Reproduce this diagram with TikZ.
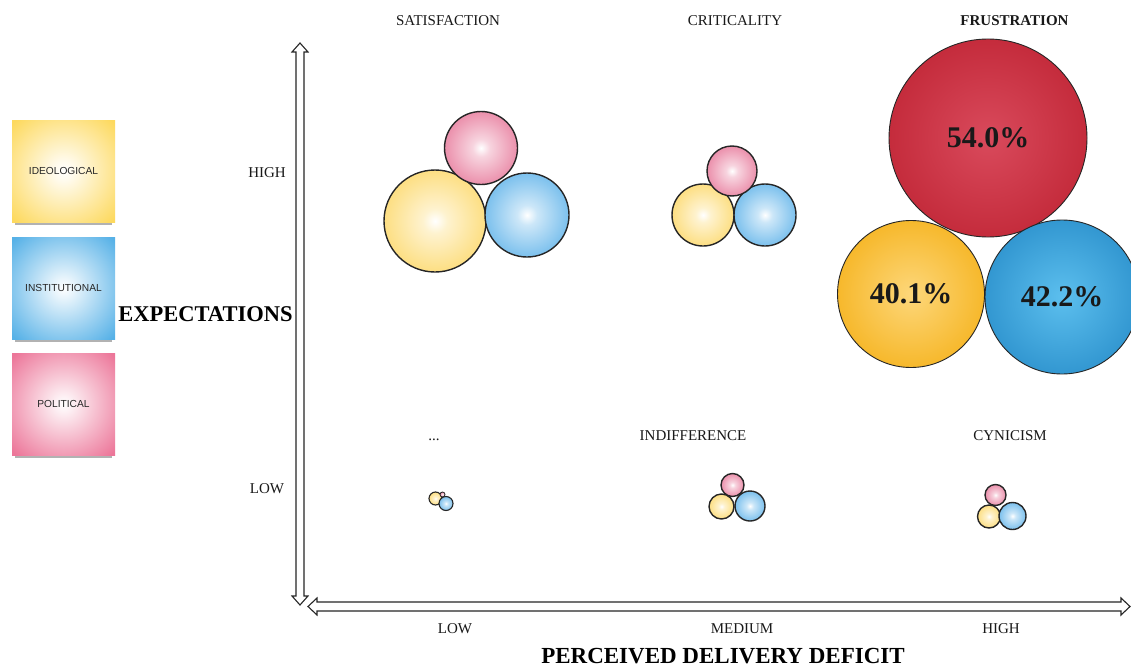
\documentclass[tikz,border=0pt]{standalone}
\usepackage{fontspec}
\setmainfont{Liberation Serif}
\newfontfamily\legendfont{Liberation Sans}
\usetikzlibrary{shadows}
% pastel bubbles
\definecolor{pyel}{HTML}{FCD55E}
\definecolor{pblu}{HTML}{55AEE8}
\definecolor{ppnk}{HTML}{E56F93}
% sticky notes
\definecolor{nyel}{HTML}{FDD95E}
\definecolor{nblu}{HTML}{56B1E7}
\definecolor{npnk}{HTML}{EC7699}
% big bubbles
\definecolor{bredc}{HTML}{D94A5C}
\definecolor{bred}{HTML}{C22838}
\definecolor{bredd}{HTML}{8E1B27}
\definecolor{borac}{HTML}{FDD77A}
\definecolor{bora}{HTML}{F5B21C}
\definecolor{borad}{HTML}{E39B08}
\definecolor{bbluc}{HTML}{5CBFEE}
\definecolor{bblu}{HTML}{2A8FCB}
\definecolor{bblud}{HTML}{1A70A6}
\pgfdeclareradialshading{shY}{\pgfpoint{0bp}{0bp}}{color(0bp)=(white); color(6bp)=(pyel!30!white); color(24bp)=(pyel!75!white); color(42bp)=(pyel); color(100bp)=(pyel)}
\pgfdeclareradialshading{shB}{\pgfpoint{0bp}{0bp}}{color(0bp)=(white); color(6bp)=(pblu!30!white); color(24bp)=(pblu!75!white); color(42bp)=(pblu); color(100bp)=(pblu)}
\pgfdeclareradialshading{shP}{\pgfpoint{0bp}{0bp}}{color(0bp)=(white); color(6bp)=(ppnk!30!white); color(24bp)=(ppnk!75!white); color(42bp)=(ppnk); color(100bp)=(ppnk)}
\pgfdeclareradialshading{noteY}{\pgfpoint{0bp}{0bp}}{color(0bp)=(white); color(5bp)=(white!88!nyel); color(34bp)=(nyel); color(100bp)=(nyel)}
\pgfdeclareradialshading{noteB}{\pgfpoint{0bp}{0bp}}{color(0bp)=(white); color(5bp)=(white!86!nblu); color(34bp)=(nblu); color(100bp)=(nblu)}
\pgfdeclareradialshading{noteP}{\pgfpoint{0bp}{0bp}}{color(0bp)=(white); color(5bp)=(white!86!npnk); color(34bp)=(npnk); color(100bp)=(npnk)}
\pgfdeclareradialshading{bigR}{\pgfpoint{0bp}{0bp}}{color(0bp)=(bredc); color(28bp)=(bred); color(50bp)=(bredd); color(100bp)=(bredd)}
\pgfdeclareradialshading{bigO}{\pgfpoint{0bp}{0bp}}{color(0bp)=(borac); color(30bp)=(bora); color(50bp)=(borad); color(100bp)=(borad)}
\pgfdeclareradialshading{bigB}{\pgfpoint{0bp}{0bp}}{color(0bp)=(bbluc); color(30bp)=(bblu); color(50bp)=(bblud); color(100bp)=(bblud)}
\begin{document}
\begin{tikzpicture}[x=1pt,y=-1pt,
  ball/.style={circle, draw=black!85, line width=1.4pt, inner sep=0pt, minimum size=#1},
  bigball/.style={circle, draw=black!85, line width=0.9pt, inner sep=0pt, minimum size=#1,
    font=\bfseries\fontsize{30}{32}\selectfont, text=black!90},
  note/.style={rectangle, minimum width=103pt, minimum height=102pt, inner sep=0pt,
    font=\legendfont\fontsize{10.2}{12}\selectfont, text=black!85,
    drop shadow={shadow xshift=0pt, shadow yshift=-6pt, opacity=0.4, shadow scale=0.94, fill=black!75}},
  lab/.style={anchor=base, font=\fontsize{15}{18}\selectfont, text=black!90},
  title/.style={anchor=base, font=\bfseries\fontsize{23}{26}\selectfont, text=black},
  axisarrow/.style={draw=black!85, fill=white, line width=1.1pt, line join=miter}
]
\useasboundingbox (0,0) rectangle (1131,666);
\fill[white] (0,0) rectangle (1131,666);

% legend notes
\node[note, shading=noteY] (ideo) at (63.5,171) {IDEOLOGICAL};
\node[note, shading=noteB] (inst) at (63.5,288) {INSTITUTIONAL};
\node[note, shading=noteP] (poli) at (63.5,404) {POLITICAL};

% axes (hollow double arrows)
\draw[axisarrow] (296,52) -- (292,52) -- (300,43) -- (308,52) -- (304,52)
  -- (304,596) -- (308,596) -- (300,605) -- (292,596) -- (296,596) -- cycle;
\draw[axisarrow] (317,602) -- (317,598) -- (308,606.5) -- (317,615) -- (317,611)
  -- (1121,611) -- (1121,615) -- (1130,606.5) -- (1121,598) -- (1121,602) -- cycle;

% axis labels
\node[lab] (yhigh) at (267,177) {HIGH};
\node[lab] (ylow) at (267,493) {LOW};
\node[anchor=base, font=\bfseries\fontsize{22.5}{26}\selectfont] (ytitle) at (205.5,321) {EXPECTATIONS};
\node[lab] (xlow) at (455,633) {LOW};
\node[lab] (xmed) at (742,633) {MEDIUM};
\node[lab] (xhigh) at (1001,633) {HIGH};
\node[title, inner sep=1pt] (xtitle) at (723,663) {PERCEIVED DELIVERY DEFICIT};

% quadrant labels
\node[lab] (sat) at (448,26) {SATISFACTION};
\node[lab] (crit) at (735,26) {CRITICALITY};
\node[lab, font=\bfseries\fontsize{15}{18}\selectfont] (frus) at (1014.5,26) {FRUSTRATION};
\node[lab] (dots) at (434,440) {...};
\node[lab] (indif) at (693,440) {INDIFFERENCE};
\node[lab] (cyn) at (1010,440) {CYNICISM};

% satisfaction bubbles
\node[ball=102pt, shading=shY] (satY) at (435,221) {};
\node[ball=84pt, shading=shB] (satB) at (527,215) {};
\node[ball=73pt, shading=shP] (satP) at (481,148) {};

% criticality bubbles
\node[ball=62pt, shading=shY] (critY) at (703,215) {};
\node[ball=62pt, shading=shB] (critB) at (765,215) {};
\node[ball=50pt, shading=shP] (critP) at (732,171) {};

% frustration bubbles
\node[bigball=198pt, shading=bigR] (frusR) at (988,138) {54.0\%};
\node[bigball=147pt, shading=bigO] (frusO) at (911,294) {40.1\%};
\node[bigball=154pt, shading=bigB] (frusB) at (1062,297) {42.2\%};

% low/low bubbles
\node[ball=13pt, line width=1.1pt, shading=shY] (dotY) at (435.5,498.5) {};
\node[ball=5pt, line width=0.8pt, shading=shP] (dotP) at (442.5,494.5) {};
\node[ball=14pt, line width=1.1pt, shading=shB] (dotB) at (446,503.5) {};

% indifference bubbles
\node[ball=25pt, shading=shY] (indY) at (721.5,506.5) {};
\node[ball=30pt, shading=shB] (indB) at (750,506) {};
\node[ball=23pt, shading=shP] (indP) at (732.5,485) {};

% cynicism bubbles
\node[ball=23pt, shading=shY] (cynY) at (989,516.5) {};
\node[ball=27pt, shading=shB] (cynB) at (1012.5,516) {};
\node[ball=21pt, shading=shP] (cynP) at (995.5,495) {};
\end{tikzpicture}
\end{document}
